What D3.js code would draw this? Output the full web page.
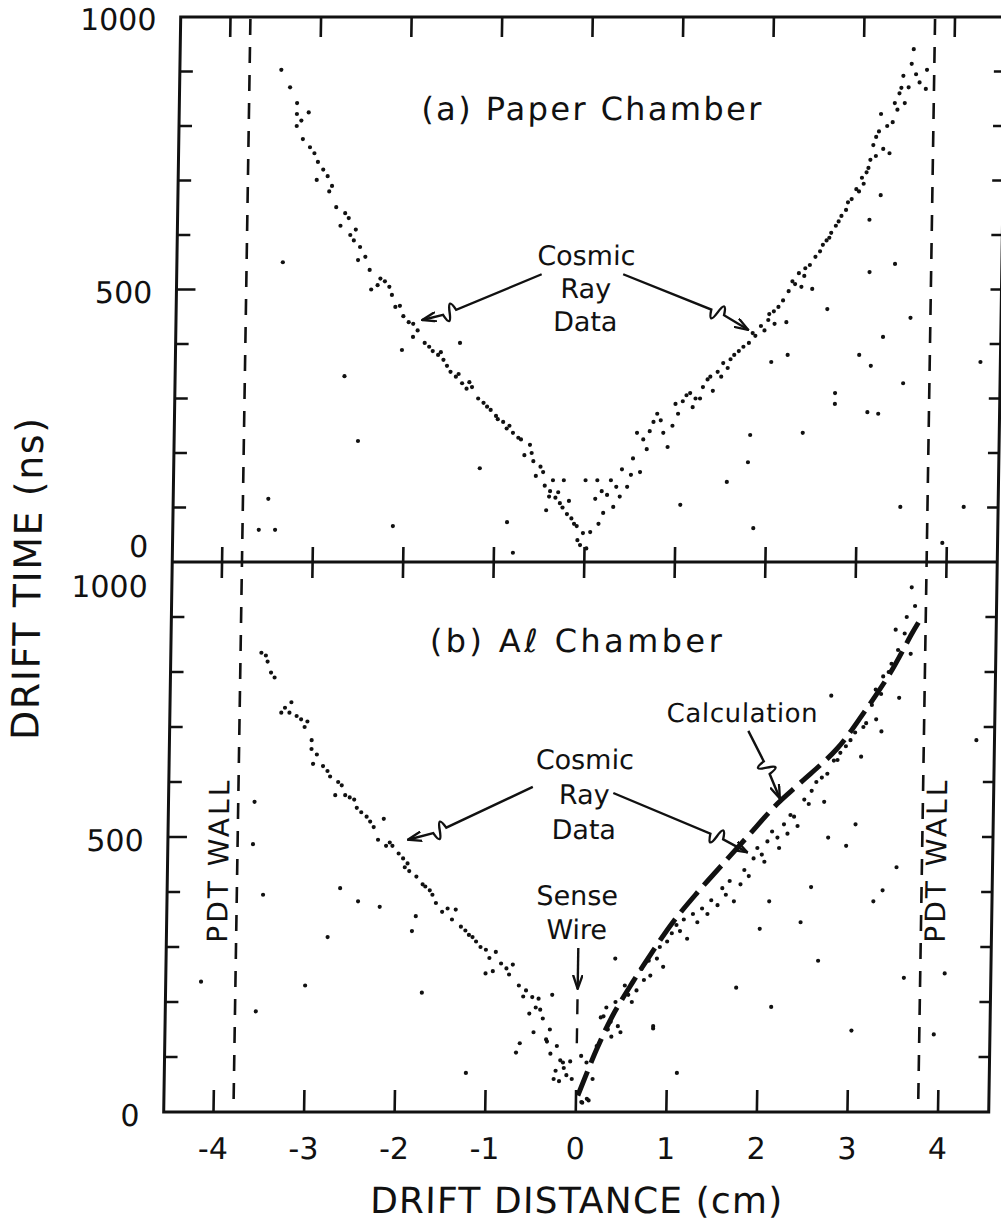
<!DOCTYPE html>
<html>
<head>
<meta charset="utf-8">
<script src="https://cdn.jsdelivr.net/npm/d3@7"></script>
<style>
  body { margin: 0; background: #fff; }
  svg { display: block; font-family: "DejaVu Sans", sans-serif; }
</style>
</head>
<body>
<script>
// ---- data: (drift distance cm, drift time ns) ----
// (a) paper chamber, cosmic ray hits
const topX = [-3.43,-3.33,-3.25,-3.25,-3.12,-3.25,-3.18,-3.10,-3.01,-3.02,-2.90,-2.88,-2.80,-2.66,-2.75,-2.64,-2.53,-2.55,-2.42,-2.33,
  -2.40,-2.17,-2.13,-2.04,-1.93,-1.93,-1.80,-1.71,-1.59,-1.51,-1.38,-1.27,-1.14,-1.06,-0.92,-0.81,-0.62,-0.55,-0.39,-0.28,
  -0.20,-0.09,-0.02,-0.05,-0.36,-0.43,-0.24,-1.75,-1.65,-1.45,-1.33,-1.20,-1.00,-0.88,-0.72,-0.68,-0.50,-0.45,-0.33,-0.15,
  -2.25,-2.08,-2.60,-2.85,-1.41,-2.05,-2.68,-2.52,-1.17,-3.38,-3.50,-3.60,-3.42,-2.12,-0.86,-0.79,0.00,0.13,
  -3.20,-3.05,-2.95,-2.70,-2.58,-2.47,-2.30,-2.20,-1.98,-1.88,-1.62,-1.55,-1.42,-1.30,-1.10,-0.98,-0.85,-0.75,-0.60,-0.58,
  -0.47,-0.40,-0.30,-0.25,-0.12,-0.18,-0.08,0.02,
  0.06,0.11,0.24,0.31,0.34,0.46,0.60,0.56,0.67,0.74,0.78,0.85,0.90,1.01,1.10,1.17,1.28,1.39,1.44,1.55,
  1.58,1.67,1.78,1.91,1.99,2.06,2.19,2.10,2.21,2.28,2.38,2.47,2.39,2.50,2.58,2.67,2.72,2.83,2.89,2.94,
  3.02,3.07,3.09,3.12,3.23,3.30,3.20,3.33,3.35,3.46,3.44,3.53,3.55,3.70,3.69,3.50,
  0.20,0.40,0.95,1.20,1.33,1.50,1.85,2.00,2.32,2.62,2.78,3.00,3.15,3.40,
  0.15,0.18,0.28,0.38,0.50,0.52,0.63,0.70,0.82,0.98,1.06,1.14,1.25,1.36,1.48,1.62,1.72,1.82,1.95,2.05,
  2.15,2.25,2.35,2.44,2.55,2.65,2.75,2.85,2.97,3.05,3.15,3.18,3.27,3.38,3.42,3.58,3.62,
  3.09,3.21,3.38,3.10,2.64,3.26,3.56,3.00,3.13,3.49,2.74,2.74,3.10,3.22,2.39,1.81,1.79,1.56,1.05,1.86,
  2.03,2.21,3.48,4.18,4.34,3.95];
const topT = [903,871,842,822,825,800,776,761,734,701,708,680,651,631,617,600,578,554,536,508,
  500,490,468,451,437,413,402,387,371,349,328,321,292,279,257,237,215,158,130,108,
  88,66,53,31,150,95,150,395,380,340,318,300,268,245,225,196,175,140,118,80,
  515,470,590,690,402,389,341,222,172,550,116,59,59,66,73,17,150,150,
  810,750,720,640,610,560,520,505,440,425,385,360,345,330,285,262,250,228,200,185,
  165,120,128,100,70,112,40,25,
  55,116,123,101,138,138,165,237,207,257,272,237,211,272,306,284,321,314,349,356,
  372,387,402,433,444,437,440,468,497,510,525,501,539,560,582,604,617,646,666,684,
  694,723,738,765,758,750,822,807,842,842,892,914,941,903,868,871,
  90,170,250,300,335,365,415,455,530,590,635,705,780,860,
  70,130,150,120,160,190,225,240,260,290,295,310,300,340,340,380,395,420,425,460,
  480,515,505,545,570,595,625,660,680,715,745,790,800,830,870,895,880,
  628,673,547,532,464,413,448,380,360,328,310,290,275,272,237,233,183,147,105,62,
  367,380,101,101,367,35];

// (b) Al chamber, cosmic ray hits
const botX = [-3.55,-3.48,-3.44,-3.21,-3.32,-3.23,-3.10,-3.03,-2.98,-2.98,-2.96,-2.85,-2.77,-2.64,-2.71,-2.60,-2.50,-2.47,-2.36,-2.28,
  -2.17,-2.23,-2.14,-2.07,-1.95,-1.93,-1.88,-1.73,-1.65,-1.58,-1.51,-1.36,-1.30,-1.21,-1.13,-1.02,-0.91,-1.02,-0.94,-0.79,
  -0.72,-0.57,-0.50,-0.43,-0.53,-0.28,-0.48,-0.33,-0.29,-0.23,-0.18,-0.11,-0.19,-0.41,-0.34,-0.25,-0.15,-0.07,
  -3.50,-3.40,-3.28,-3.15,-3.06,-2.92,-2.80,-2.68,-2.55,-2.42,-2.32,-2.10,-2.00,-1.90,-1.80,-1.70,-1.62,-1.45,-1.40,-1.25,
  -1.17,-1.08,-0.98,-0.85,-0.76,-0.65,-0.60,-0.46,-0.38,-0.30,-0.22,-0.14,-0.05,
  -3.60,-3.61,-3.49,-2.64,-2.44,-2.20,-1.80,-1.84,-2.77,-4.16,-3.01,-1.72,-3.55,-1.22,-0.67,-0.63,
  0.05,0.11,0.07,0.14,0.26,0.37,0.48,0.56,0.65,0.73,0.80,0.87,0.94,1.03,1.12,1.20,1.31,1.42,1.53,1.58,
  1.71,1.78,1.87,1.92,2.01,2.07,2.18,2.25,2.29,2.36,2.47,2.55,2.66,2.69,2.79,2.86,2.97,3.11,3.14,3.25,
  3.31,3.24,3.32,3.41,3.45,3.57,3.62,3.62,3.50,0.29,0.34,0.38,0.45,0.12,0.06,
  0.18,0.22,0.32,0.42,0.52,0.60,0.70,0.78,0.90,0.98,1.08,1.16,1.26,1.36,1.46,1.62,1.66,1.82,1.96,2.04,
  2.12,2.20,2.32,2.40,2.52,2.60,2.72,2.83,2.92,3.02,3.20,3.30,3.38,3.48,3.55,3.66,
  2.75,3.09,2.74,3.04,2.94,3.50,2.56,2.10,2.00,2.45,3.35,3.25,2.65,3.60,3.94,4.05,1.75,2.14,3.03,1.11,
  0.84,0.41,4.36,0.84];
const botT = [835,819,799,745,726,726,714,710,676,660,633,629,610,594,576,576,568,553,537,518,
  533,495,484,484,461,445,438,414,403,380,364,368,337,322,310,295,291,252,256,261,
  268,221,209,206,179,213,145,128,106,75,94,67,56,186,132,60,90,92,
  830,790,735,720,700,650,620,600,572,545,528,490,470,452,428,410,395,370,350,330,
  318,300,280,270,250,230,210,190,170,150,120,80,60,
  564,487,395,407,383,373,356,329,318,237,230,217,183,71,108,125,
  102,90,17,21,172,164,145,213,221,240,248,279,264,325,329,315,345,360,376,407,
  383,414,429,461,468,492,499,523,506,537,568,584,608,564,639,653,676,700,707,714,
  692,768,792,815,877,900,833,954,753,174,150,137,156,24,18,
  60,120,190,200,230,200,260,275,300,310,340,350,360,370,385,395,420,440,480,455,
  510,480,540,520,560,600,615,640,665,690,740,760,800,840,870,920,
  757,646,499,523,484,445,409,383,333,345,403,383,275,244,141,252,226,191,148,71,
  152,279,676,156];

// (b) calculated drift time curve
const calcX = [0.02, 0.22, 0.39, 0.61, 0.79, 1.04, 1.30, 1.55, 1.84, 2.17, 2.42, 2.82, 3.10, 3.40, 3.63, 3.70];
const calcT = [30, 114, 175, 237, 284, 345, 398, 445, 499, 560, 598, 660, 723, 799, 870, 890];

// axis ticks and labels
const xTicks = [-4, -3, -2, -1, 0, 1, 2, 3, 4];
const yTicks = [100, 200, 300, 400, 500, 600, 700, 800, 900];
const yLabels = [0, 500, 1000];
const wallX = [-3.78, 3.78];

// annotation arrows: start, squiggle, tip (cm, ns)
const arrowsTop = [
  { s: [-0.52, 528], c: [-1.53, 458], t: [-1.83, 444] },
  { s: [0.38, 528], c: [1.43, 458], t: [1.77, 426] }
];
const arrowsBot = [
  { s: [-0.53, 591], c: [-1.55, 512], t: [-1.90, 495] },
  { s: [0.36, 580], c: [1.51, 501], t: [1.85, 472] },
  { s: [1.84, 693], c: [2.05, 626], t: [2.20, 570] }
];

const width = 1001, height = 1225;
const ink = "#111";

const svg = d3.select("body").append("svg")
  .attr("width", width)
  .attr("height", height);

// arrow head
svg.append("defs").append("marker")
  .attr("id", "head")
  .attr("viewBox", "0 0 14 10")
  .attr("refX", 13).attr("refY", 5)
  .attr("markerWidth", 15).attr("markerHeight", 11)
  .attr("markerUnits", "userSpaceOnUse")
  .attr("orient", "auto")
  .append("path")
  .attr("d", "M0,0.5 L13,5 L0,9.5")
  .attr("fill", "none")
  .attr("stroke", ink)
  .attr("stroke-width", 2.2);

// the scanned figure leans a little, reproduce with a small skew
const g = svg.append("g")
  .attr("transform", "translate(0,565) skewX(-0.89) translate(0,-565)");

const x = d3.scaleLinear().domain([-4, 4]).range([222, 946.5]);
const yTop = d3.scaleLinear().domain([0, 1000]).range([562, 17]);
const yBot = d3.scaleLinear().domain([0, 1000]).range([1112, 562]);
const xMin = -4.55, xMax = 4.56;

// frame
g.append("rect")
  .attr("x", x(xMin)).attr("y", yTop(1000))
  .attr("width", x(xMax) - x(xMin))
  .attr("height", yBot(0) - yTop(1000))
  .attr("fill", "none").attr("stroke", ink).attr("stroke-width", 3);
g.append("line")
  .attr("x1", x(xMin)).attr("x2", x(xMax))
  .attr("y1", yTop(0)).attr("y2", yTop(0))
  .attr("stroke", ink).attr("stroke-width", 3);

// tick marks, all drawn as one path
let tickPath = "";
[yTop, yBot].forEach(function(y) {
  yTicks.forEach(function(d) {
    const len = d === 500 ? 19 : 13;
    tickPath += "M" + x(xMin) + "," + y(d) + "h" + len;
    tickPath += "M" + x(xMax) + "," + y(d) + "h-11";
  });
});
xTicks.forEach(function(d) {
  tickPath += "M" + x(d) + "," + yTop(1000) + "v20";
  tickPath += "M" + x(d) + "," + (yTop(0) - 15) + "v31";
  tickPath += "M" + x(d) + "," + yBot(0) + "v-22";
});
g.append("path")
  .attr("d", tickPath)
  .attr("fill", "none")
  .attr("stroke", ink)
  .attr("stroke-width", 2.6);

// y tick labels
function yLabel(y, v, dy) {
  g.append("text")
    .attr("x", 148).attr("y", y(v) + dy)
    .attr("text-anchor", "end")
    .attr("dominant-baseline", "central")
    .attr("font-size", 30)
    .attr("fill", ink)
    .text(v);
}
yLabels.forEach(function(v) {
  yLabel(yTop, v, v === 0 ? -15 : 3);
  yLabel(yBot, v, v === 1000 ? 25 : 4);
});

// x tick labels
g.selectAll(".xlab")
  .data(xTicks)
  .enter()
  .append("text")
  .attr("x", function(d) { return x(d); })
  .attr("y", yBot(0) + 47)
  .attr("text-anchor", "middle")
  .attr("font-size", 30)
  .attr("fill", ink)
  .text(function(d) { return d < 0 ? "-" + Math.abs(d) : d; });

// axis titles
g.append("text")
  .attr("x", 586).attr("y", 1213)
  .attr("text-anchor", "middle")
  .attr("font-size", 36)
  .attr("textLength", 412)
  .attr("fill", ink)
  .text("DRIFT DISTANCE (cm)");
g.append("text")
  .attr("transform", "translate(41,579) rotate(-90)")
  .attr("text-anchor", "middle")
  .attr("font-size", 38)
  .attr("textLength", 322)
  .attr("fill", ink)
  .text("DRIFT TIME (ns)");

// PDT walls
g.selectAll(".wall")
  .data(wallX)
  .enter()
  .append("line")
  .attr("x1", function(d) { return x(d); })
  .attr("x2", function(d) { return x(d); })
  .attr("y1", yTop(1000) + 2)
  .attr("y2", yBot(0) - 4)
  .attr("stroke", ink)
  .attr("stroke-width", 2.6)
  .attr("stroke-dasharray", "16,12");

g.selectAll(".walllab")
  .data(wallX)
  .enter()
  .append("text")
  .attr("transform", function(d) {
    return "translate(" + (x(d) + (d < 0 ? -9 : 24)) + "," + yBot(455) + ") rotate(-90)";
  })
  .attr("text-anchor", "middle")
  .attr("font-size", 28)
  .attr("textLength", 162)
  .attr("fill", ink)
  .text("PDT WALL");

// cosmic ray data points
g.selectAll(".ptop")
  .data(d3.zip(topX, topT))
  .enter()
  .append("circle")
  .attr("cx", function(d) { return x(d[0]); })
  .attr("cy", function(d) { return yTop(d[1]); })
  .attr("r", 2.1)
  .attr("fill", ink);

g.selectAll(".pbot")
  .data(d3.zip(botX, botT))
  .enter()
  .append("circle")
  .attr("cx", function(d) { return x(d[0]); })
  .attr("cy", function(d) { return yBot(d[1]); })
  .attr("r", 2.1)
  .attr("fill", ink);

// calculation curve
const calcLine = d3.line()
  .x(function(d) { return x(d[0]); })
  .y(function(d) { return yBot(d[1]); })
  .curve(d3.curveCatmullRom);
g.append("path")
  .attr("d", calcLine(d3.zip(calcX, calcT)))
  .attr("fill", "none")
  .attr("stroke", ink)
  .attr("stroke-width", 5)
  .attr("stroke-dasharray", "26,9");

// arrows with a small break squiggle
function arrowPath(y, a) {
  const s = [x(a.s[0]), y(a.s[1])], c = [x(a.c[0]), y(a.c[1])], t = [x(a.t[0]), y(a.t[1])];
  const L = Math.hypot(t[0] - s[0], t[1] - s[1]);
  const u = [(t[0] - s[0]) / L, (t[1] - s[1]) / L], n = [-u[1], u[0]];
  const k = 7, b = 16;
  const p1 = [c[0] - u[0] * k, c[1] - u[1] * k], p2 = [c[0] + u[0] * k, c[1] + u[1] * k];
  const q1 = [(p1[0] + c[0]) / 2 + n[0] * b, (p1[1] + c[1]) / 2 + n[1] * b];
  const q2 = [(c[0] + p2[0]) / 2 - n[0] * b, (c[1] + p2[1]) / 2 - n[1] * b];
  return "M" + s + "L" + p1 + "Q" + q1 + " " + c + "Q" + q2 + " " + p2 + "L" + t;
}
arrowsTop.forEach(function(a) {
  g.append("path").attr("d", arrowPath(yTop, a))
    .attr("fill", "none").attr("stroke", ink).attr("stroke-width", 2.4)
    .attr("marker-end", "url(#head)");
});
arrowsBot.forEach(function(a) {
  g.append("path").attr("d", arrowPath(yBot, a))
    .attr("fill", "none").attr("stroke", ink).attr("stroke-width", 2.4)
    .attr("marker-end", "url(#head)");
});

// sense wire arrow and dashed wire position
g.append("line")
  .attr("x1", x(0)).attr("x2", x(0))
  .attr("y1", yBot(298)).attr("y2", yBot(224))
  .attr("stroke", ink).attr("stroke-width", 2.4)
  .attr("marker-end", "url(#head)");
g.append("line")
  .attr("x1", x(0)).attr("x2", x(0))
  .attr("y1", yBot(205)).attr("y2", yBot(112))
  .attr("stroke", ink).attr("stroke-width", 2.4)
  .attr("stroke-dasharray", "15,14");

// text annotations
function note(y, cx, t, lines, size, gap) {
  const txt = g.append("text")
    .attr("text-anchor", "middle")
    .attr("font-size", size)
    .attr("fill", ink);
  lines.forEach(function(s, i) {
    txt.append("tspan")
      .attr("x", x(cx))
      .attr("y", y(t) + i * gap)
      .text(s);
  });
  return txt;
}
note(yTop, 0.0, 811, ["(a) Paper Chamber"], 32, 0).select("tspan").attr("textLength", 340);
note(yTop, -0.03, 545, ["Cosmic", "Ray", "Data"], 27, 33);
note(yBot, -0.08, 836, ["(b) A\u2113 Chamber"], 32, 0).select("tspan").attr("textLength", 292);
note(yBot, 0.04, 624, ["Cosmic", "Ray", "Data"], 27, 35);
note(yBot, -0.02, 376, ["Sense", "Wire"], 27, 34);
note(yBot, 1.77, 709, ["Calculation"], 26, 0).select("tspan").attr("textLength", 151);
</script>
</body>
</html>
